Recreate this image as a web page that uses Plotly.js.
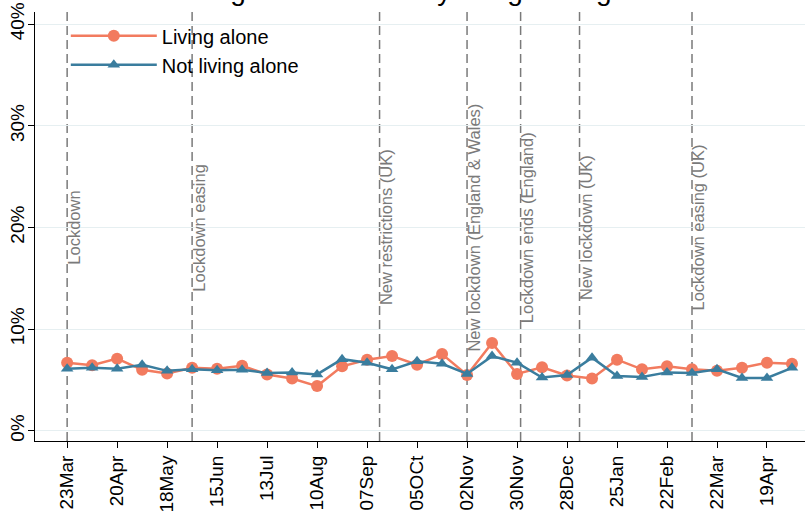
<!DOCTYPE html>
<html>
<head>
<meta charset="utf-8">
<script src="https://cdn.plot.ly/plotly-3.0.1.min.js"></script>
<style>html,body{margin:0;padding:0;background:#fff;}#chart{width:805px;height:519px;}</style>
</head>
<body>
<div id="chart"></div>
<script>
// Fortnightly survey waves, starting 23 Mar 2020
const startDate = '2020-03-23';
const livingAlone = [6.7, 6.45, 7.1, 6.0, 5.65, 6.2, 6.1, 6.4, 5.55, 5.15, 4.4, 6.35, 7.0, 7.35,
                     6.5, 7.55, 5.5, 8.65, 5.6, 6.25, 5.45, 5.15, 7.0, 6.05, 6.35, 6.05, 5.9, 6.2, 6.7, 6.6];
const notLivingAlone = [6.1, 6.2, 6.1, 6.5, 5.9, 6.05, 5.95, 6.0, 5.7, 5.75, 5.55, 7.05, 6.7, 6.05,
                        6.85, 6.6, 5.6, 7.35, 6.7, 5.25, 5.5, 7.2, 5.4, 5.3, 5.75, 5.7, 6.05, 5.2, 5.2, 6.2];
const tickDates = ['2020-03-23','2020-04-20','2020-05-18','2020-06-15','2020-07-13','2020-08-10','2020-09-07',
                   '2020-10-05','2020-11-02','2020-11-30','2020-12-28','2021-01-25','2021-02-22','2021-03-22','2021-04-19'];
const tickLabels = ['23Mar','20Apr','18May','15Jun','13Jul','10Aug','07Sep','05OCt','02Nov','30Nov','28Dec','25Jan','22Feb','22Mar','19Apr'];
const eventDates = ['2020-03-23','2020-06-01','2020-09-14','2020-11-02','2020-12-02','2021-01-04','2021-03-08'];
const eventLabels = ['Lockdown','Lockdown easing','New restrictions (UK)','New lockdown (England & Wales)',
                     'Lockdown ends (England)','New lockdown (UK)','Lockdown easing (UK)'];
const chartTitle = 'Figure 1b: Rates by living arrangement';

function addDays(iso, n) {
  const d = new Date(iso + 'T00:00:00Z');
  d.setUTCDate(d.getUTCDate() + n);
  return d.toISOString().slice(0, 10);
}
const waveDates = livingAlone.map((_, i) => addDays(startDate, 14 * i));

const FONT = 'Liberation Sans, Arial, sans-serif';
const RED = '#f27b5f';
const BLUE = '#3a7d9e';

const traces = [
  {x: waveDates, y: livingAlone, name: 'Living alone', type: 'scatter', mode: 'lines+markers',
   line: {color: RED, width: 2.5}, marker: {color: RED, size: 12, symbol: 'circle'}, legendgroup: 'a'},
  {x: waveDates, y: notLivingAlone, name: 'Not living alone', type: 'scatter', mode: 'lines+markers',
   line: {color: BLUE, width: 2.5}, marker: {color: BLUE, size: 11, symbol: 'triangle-up'}, legendgroup: 'b'}
];

const shapes = eventDates.map(d => ({
  type: 'line', xref: 'x', yref: 'paper', x0: d, x1: d, y0: 0, y1: 1,
  line: {color: '#7a7a7a', width: 1.5, dash: '9px,5px'}, layer: 'below'
}));
const annotations = eventDates.map((d, i) => ({
  x: d, y: 20, xref: 'x', yref: 'y', text: eventLabels[i], showarrow: false,
  textangle: -90, xanchor: 'left', yanchor: 'middle', xshift: -5,
  font: {family: FONT, size: 16.5, color: '#7a7a7a'}
}));
// Title (clipped at the top edge, as in the reference)
annotations.push({
  x: 0.537, y: 1.0093, xref: 'paper', yref: 'paper', text: chartTitle, showarrow: false,
  xanchor: 'center', yanchor: 'bottom', font: {family: FONT, size: 28, color: '#000'}
});

const layout = {
  width: 805, height: 519,
  margin: {l: 35, r: 0, t: 12, b: 78, pad: 0},
  paper_bgcolor: '#ffffff', plot_bgcolor: '#ffffff',
  font: {family: FONT, color: '#000'},
  xaxis: {type: 'date', range: ['2020-03-05', '2021-05-10 07:00'], tickmode: 'array',
          tickvals: tickDates, ticktext: tickLabels, tickangle: -90, ticks: 'outside', ticklen: 6,
          tickcolor: '#000', tickfont: {family: FONT, size: 19, color: '#000'},
          showgrid: false, showline: true, linecolor: '#000', linewidth: 1, zeroline: false},
  yaxis: {range: [-1, 41.2], tickvals: [0, 10, 20, 30, 40], ticktext: ['0%','10%','20%','30%','40%'],
          tickangle: -90, ticks: 'outside', ticklen: 6, tickcolor: '#000', ticklabelstandoff: -4,
          tickfont: {family: FONT, size: 19, color: '#000'},
          showgrid: true, gridcolor: '#e6eff1', gridwidth: 1, zeroline: false,
          showline: true, linecolor: '#000', linewidth: 1},
  legend: {x: 0.04, y: 0.99, xanchor: 'left', yanchor: 'top', bgcolor: 'rgba(0,0,0,0)',
           font: {family: FONT, size: 20, color: '#000'}, traceorder: 'grouped', tracegroupgap: 0,
           itemwidth: 86},
  shapes: shapes,
  annotations: annotations,
  showlegend: true
};

Plotly.newPlot('chart', traces, layout, {displayModeBar: false, staticPlot: true});
</script>
</body>
</html>
